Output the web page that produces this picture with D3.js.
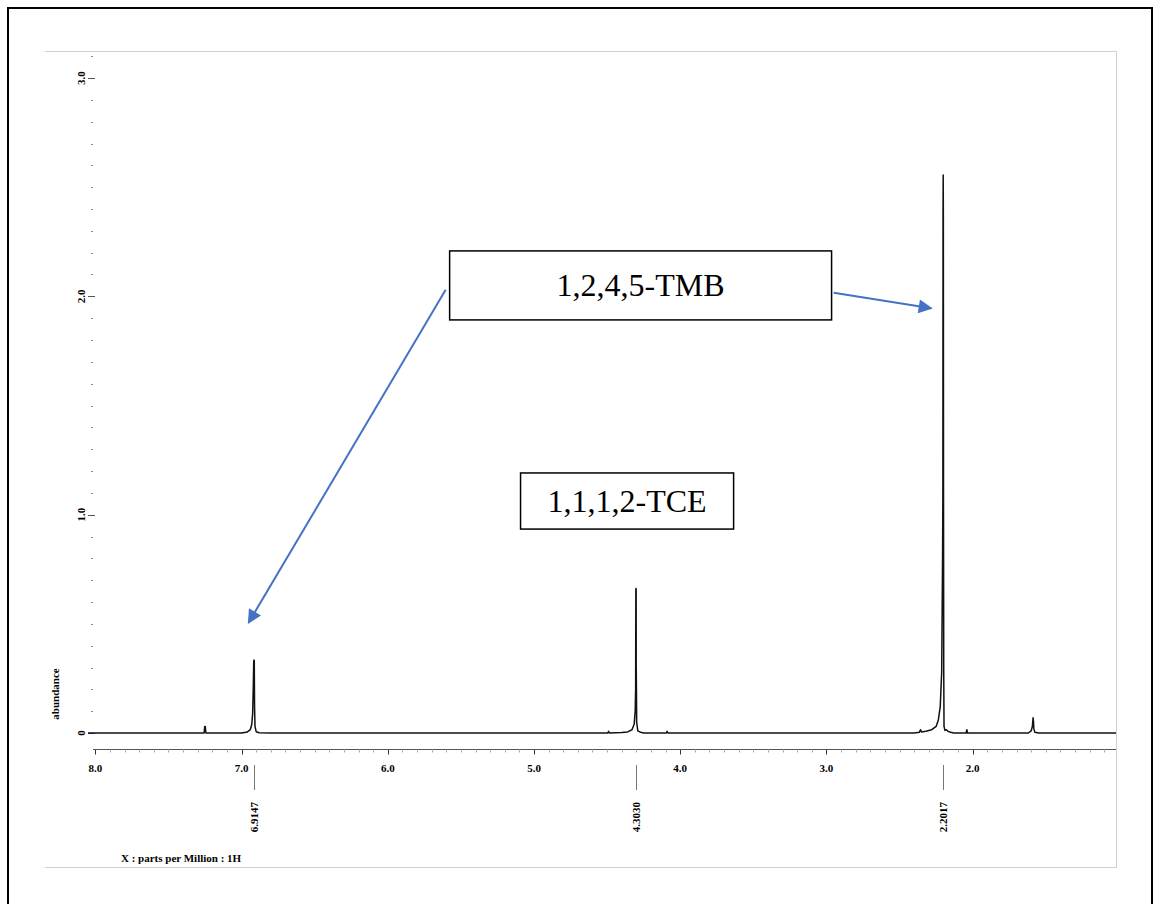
<!DOCTYPE html>
<html>
<head>
<meta charset="utf-8">
<script src="https://cdn.jsdelivr.net/npm/d3@7.9.0/dist/d3.min.js"></script>
<style>
  html, body { margin: 0; padding: 0; background: #fff; }
  svg text { font-family: "Liberation Serif", "Times New Roman", serif; }
</style>
</head>
<body>
<svg id="chart" width="1156" height="904"></svg>
<script>
// spectrum (ppm, abundance)
const ppm = [
  8.05, 7.27, 7.256, 7.252, 7.248, 7.244, 7.05, 7.00, 6.96, 6.94, 6.93, 6.924, 6.92, 6.9165, 6.9147,
  6.913, 6.911, 6.908, 6.90, 6.88, 6.80,
  4.50, 4.495, 4.49, 4.485, 4.40, 4.36, 4.33, 4.315, 4.308, 4.305, 4.3035, 4.3030, 4.3015, 4.301,
  4.2995, 4.298, 4.29, 4.27, 4.25, 4.095, 4.09, 4.085,
  2.40, 2.365, 2.357, 2.35, 2.32, 2.28, 2.25, 2.235, 2.222, 2.212, 2.206, 2.204, 2.2028, 2.2017,
  2.2006, 2.1995, 2.198, 2.196, 2.19, 2.18, 2.17, 2.15, 2.13, 2.045, 2.04, 2.035,
  1.62, 1.60, 1.592, 1.587, 1.584, 1.582, 1.575, 1.55, 1.02
];
const abundance = [
  0, 0, 0, 0.03, 0.03, 0, 0, 0, 0.005, 0.015, 0.04, 0.09, 0.20, 0.33, 0.334,
  0.33, 0.12, 0.03, 0.006, 0.001, 0,
  0, 0, 0.008, 0, 0.002, 0.005, 0.015, 0.04, 0.10, 0.20, 0.66, 0.662, 0.66, 0.30,
  0.20, 0.05, 0.01, 0.003, 0, 0, 0.008, 0,
  0, 0.003, 0.015, 0.005, 0.008, 0.015, 0.03, 0.06, 0.12, 0.28, 0.80, 1.08, 2.37, 2.556,
  2.37, 1.08, 0.28, 0.03, 0.012, 0.015, 0.008, 0.003, 0, 0, 0.015, 0,
  0, 0.01, 0.03, 0.07, 0.05, 0.02, 0.003, 0, 0
];

const yMajor = [0, 1, 2, 3];
const yMajorLabels = ["0", "1.0", "2.0", "3.0"];
const xMajor = [8, 7, 6, 5, 4, 3, 2];
const xMajorLabels = ["8.0", "7.0", "6.0", "5.0", "4.0", "3.0", "2.0"];
const peakPositions = [6.9147, 4.3030, 2.2017];
const peakLabels = ["6.9147", "4.3030", "2.2017"];

// annotation boxes and arrows, in data units (ppm, abundance)
const boxLabels = ["1,2,4,5-TMB", "1,1,1,2-TCE"];
const boxX = [[5.577, 2.965], [5.092, 3.635]];
const boxY = [[1.892, 2.208], [0.934, 1.191]];
const arrowFrom = [[5.604, 2.03], [2.951, 2.016]];
const arrowTo = [[6.952, 0.505], [2.283, 1.945]];

const svg = d3.select('#chart');
const x = d3.scaleLinear().domain([8.05, 1.02]).range([88, 1116]);
const y = d3.scaleLinear().domain([0, 3]).range([733, 78]);

// outer page border
svg.append('rect')
  .attr('x', 8).attr('y', 8).attr('width', 1144).attr('height', 920)
  .attr('fill', 'none').attr('stroke', '#000').attr('stroke-width', 2);

// light frame
svg.append('path')
  .attr('d', 'M45,51.5H1116.5V867.5H45')
  .attr('fill', 'none').attr('stroke', '#cfcfcf').attr('stroke-width', 1);

// y ticks (no axis line)
const yMinor = d3.range(0, 3.11, 0.1);
svg.append('g').selectAll('line').data(yMinor).join('line')
  .attr('x1', 91).attr('x2', 93)
  .attr('y1', d => Math.round(y(d)) + 0.5).attr('y2', d => Math.round(y(d)) + 0.5)
  .attr('stroke', '#888');
svg.append('g').selectAll('line').data(yMajor).join('line')
  .attr('x1', 88).attr('x2', 95)
  .attr('y1', d => Math.round(y(d)) + 0.5).attr('y2', d => Math.round(y(d)) + 0.5)
  .attr('stroke', '#555');
svg.append('g').selectAll('text').data(yMajor).join('text')
  .attr('transform', d => `translate(85,${y(d)}) rotate(-90)`)
  .attr('text-anchor', 'middle')
  .attr('font-size', 11).attr('font-weight', 'bold')
  .text((d, i) => yMajorLabels[i]);

svg.append('text')
  .attr('transform', 'translate(59,694) rotate(-90)')
  .attr('text-anchor', 'middle')
  .attr('font-size', 11).attr('font-weight', 'bold')
  .text('abundance');

// x axis
const xAxisY = 749.5;
svg.append('line')
  .attr('x1', 93).attr('x2', 1116).attr('y1', xAxisY).attr('y2', xAxisY)
  .attr('stroke', '#555');
const xMinor = d3.range(1.1, 8.05, 0.1);
svg.append('g').selectAll('line').data(xMinor).join('line')
  .attr('x1', d => Math.round(x(d)) + 0.5).attr('x2', d => Math.round(x(d)) + 0.5)
  .attr('y1', xAxisY).attr('y2', xAxisY + 3)
  .attr('stroke', '#aaa');
svg.append('g').selectAll('line').data(xMajor).join('line')
  .attr('x1', d => Math.round(x(d)) + 0.5).attr('x2', d => Math.round(x(d)) + 0.5)
  .attr('y1', xAxisY).attr('y2', xAxisY + 5)
  .attr('stroke', '#333');
svg.append('g').selectAll('text').data(xMajor).join('text')
  .attr('x', d => x(d)).attr('y', 772)
  .attr('text-anchor', 'middle')
  .attr('font-size', 11).attr('font-weight', 'bold')
  .text((d, i) => xMajorLabels[i]);

svg.append('text')
  .attr('x', 121).attr('y', 862)
  .attr('font-size', 11).attr('font-weight', 'bold')
  .text('X : parts per Million : 1H');

// peak markers below the axis
svg.append('g').selectAll('line').data(peakPositions).join('line')
  .attr('x1', d => Math.round(x(d)) + 0.5).attr('x2', d => Math.round(x(d)) + 0.5)
  .attr('y1', 765).attr('y2', 790)
  .attr('stroke', '#777');
svg.append('g').selectAll('text').data(peakPositions).join('text')
  .attr('transform', d => `translate(${x(d) + 4},817) rotate(-90)`)
  .attr('text-anchor', 'middle')
  .attr('font-size', 11).attr('font-weight', 'bold')
  .text((d, i) => peakLabels[i]);

// spectrum
const pts = ppm.map((p, i) => [p, abundance[i]]);
svg.append('path')
  .datum(pts)
  .attr('d', d3.line().x(d => x(d[0])).y(d => y(d[1])))
  .attr('fill', 'none')
  .attr('stroke', '#111')
  .attr('stroke-width', 1.5)
  .attr('stroke-linejoin', 'round');

// annotations
const blue = '#4472C4';
svg.append('defs').append('marker')
  .attr('id', 'head')
  .attr('viewBox', '0 0 10 10')
  .attr('refX', 9).attr('refY', 5)
  .attr('markerWidth', 8).attr('markerHeight', 7)
  .attr('markerUnits', 'strokeWidth')
  .attr('orient', 'auto')
  .append('path').attr('d', 'M0,0L10,5L0,10Z').attr('fill', blue);

svg.append('g').selectAll('line').data(arrowFrom).join('line')
  .attr('x1', d => x(d[0])).attr('y1', d => y(d[1]))
  .attr('x2', (d, i) => x(arrowTo[i][0])).attr('y2', (d, i) => y(arrowTo[i][1]))
  .attr('stroke', blue).attr('stroke-width', 2)
  .attr('marker-end', 'url(#head)');

const boxes = svg.append('g').selectAll('g').data(boxLabels).join('g');
boxes.append('rect')
  .attr('x', (d, i) => x(boxX[i][0]))
  .attr('y', (d, i) => y(boxY[i][1]))
  .attr('width', (d, i) => x(boxX[i][1]) - x(boxX[i][0]))
  .attr('height', (d, i) => y(boxY[i][0]) - y(boxY[i][1]))
  .attr('fill', '#fff').attr('stroke', '#000').attr('stroke-width', 1.5);
boxes.append('text')
  .attr('x', (d, i) => (x(boxX[i][0]) + x(boxX[i][1])) / 2)
  .attr('y', (d, i) => (y(boxY[i][0]) + y(boxY[i][1])) / 2 + 11)
  .attr('text-anchor', 'middle')
  .attr('font-size', 32)
  .text(d => d);
</script>
</body>
</html>
